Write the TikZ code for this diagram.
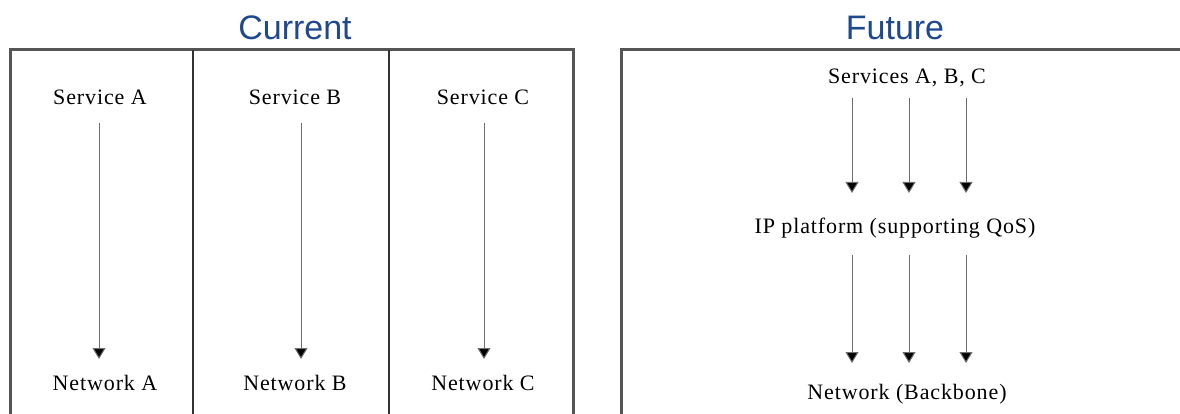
\documentclass[tikz,border=0pt]{standalone}
\usepackage{fontspec}
\setmainfont{Liberation Serif}[LetterSpace=4]
\newfontfamily\titlefont{Liberation Sans}
\usetikzlibrary{arrows.meta}
\definecolor{titleblue}{RGB}{32,72,140}
\definecolor{frame}{RGB}{85,85,85}
\definecolor{arrowgray}{RGB}{110,110,110}
\tikzset{
  title/.style={font=\titlefont\fontsize{34}{38}\selectfont, text=titleblue, inner sep=0pt},
  lbl/.style={font=\fontsize{22}{25}\selectfont, inner sep=2pt},
  flow/.style={draw=arrowgray, line width=1pt, -{Triangle[length=11pt,width=13pt,fill=black]}},
  outer/.style={draw=frame, line width=3pt},
  divider/.style={draw=black!80, line width=1.2pt}
}
\begin{document}
\begin{tikzpicture}[x=1pt,y=-1pt]
\useasboundingbox (0,0) rectangle (1180,414);
% titles
\node[title] (cur) at (295,28) {Current};
\node[title] (fut) at (895,28) {Future};
% left frame
\draw[outer] (10,430) -- (10,50) -- (573,50) -- (573,430);
\draw[divider] (193,50) -- (193,430);
\draw[divider] (389,50) -- (389,430);
% right frame
\draw[outer] (621,430) -- (621,50) -- (1200,50);
% current
\node[lbl] (sa) at (100,97) {Service A};
\node[lbl] (sb) at (295,97) {Service B};
\node[lbl] (sc) at (483,97) {Service C};
\node[lbl] (na) at (105,383) {Network A};
\node[lbl] (nb) at (295,383) {Network B};
\node[lbl] (nc) at (483,383) {Network C};
\coordinate (sa1) at (99,123); \coordinate (na1) at (99,359);
\coordinate (sb1) at (301,123); \coordinate (nb1) at (301,359);
\coordinate (sc1) at (484,123); \coordinate (nc1) at (484,359);
\draw[flow] (sa1) -- (na1);
\draw[flow] (sb1) -- (nb1);
\draw[flow] (sc1) -- (nc1);
% future
\node[lbl] (sv) at (907,78) {Services A, B, C};
\node[lbl] (ip) at (895,228) {IP platform (supporting QoS)};
\node[lbl] (bb) at (907,394) {Network (Backbone)};
\foreach \x/\n in {852/a,909/b,966/c}{
  \coordinate (t\n) at (\x,98); \coordinate (m\n) at (\x,193);
  \coordinate (u\n) at (\x,255); \coordinate (d\n) at (\x,363);
  \draw[flow] (t\n) -- (m\n);
  \draw[flow] (u\n) -- (d\n);
}
\end{tikzpicture}
\end{document}
